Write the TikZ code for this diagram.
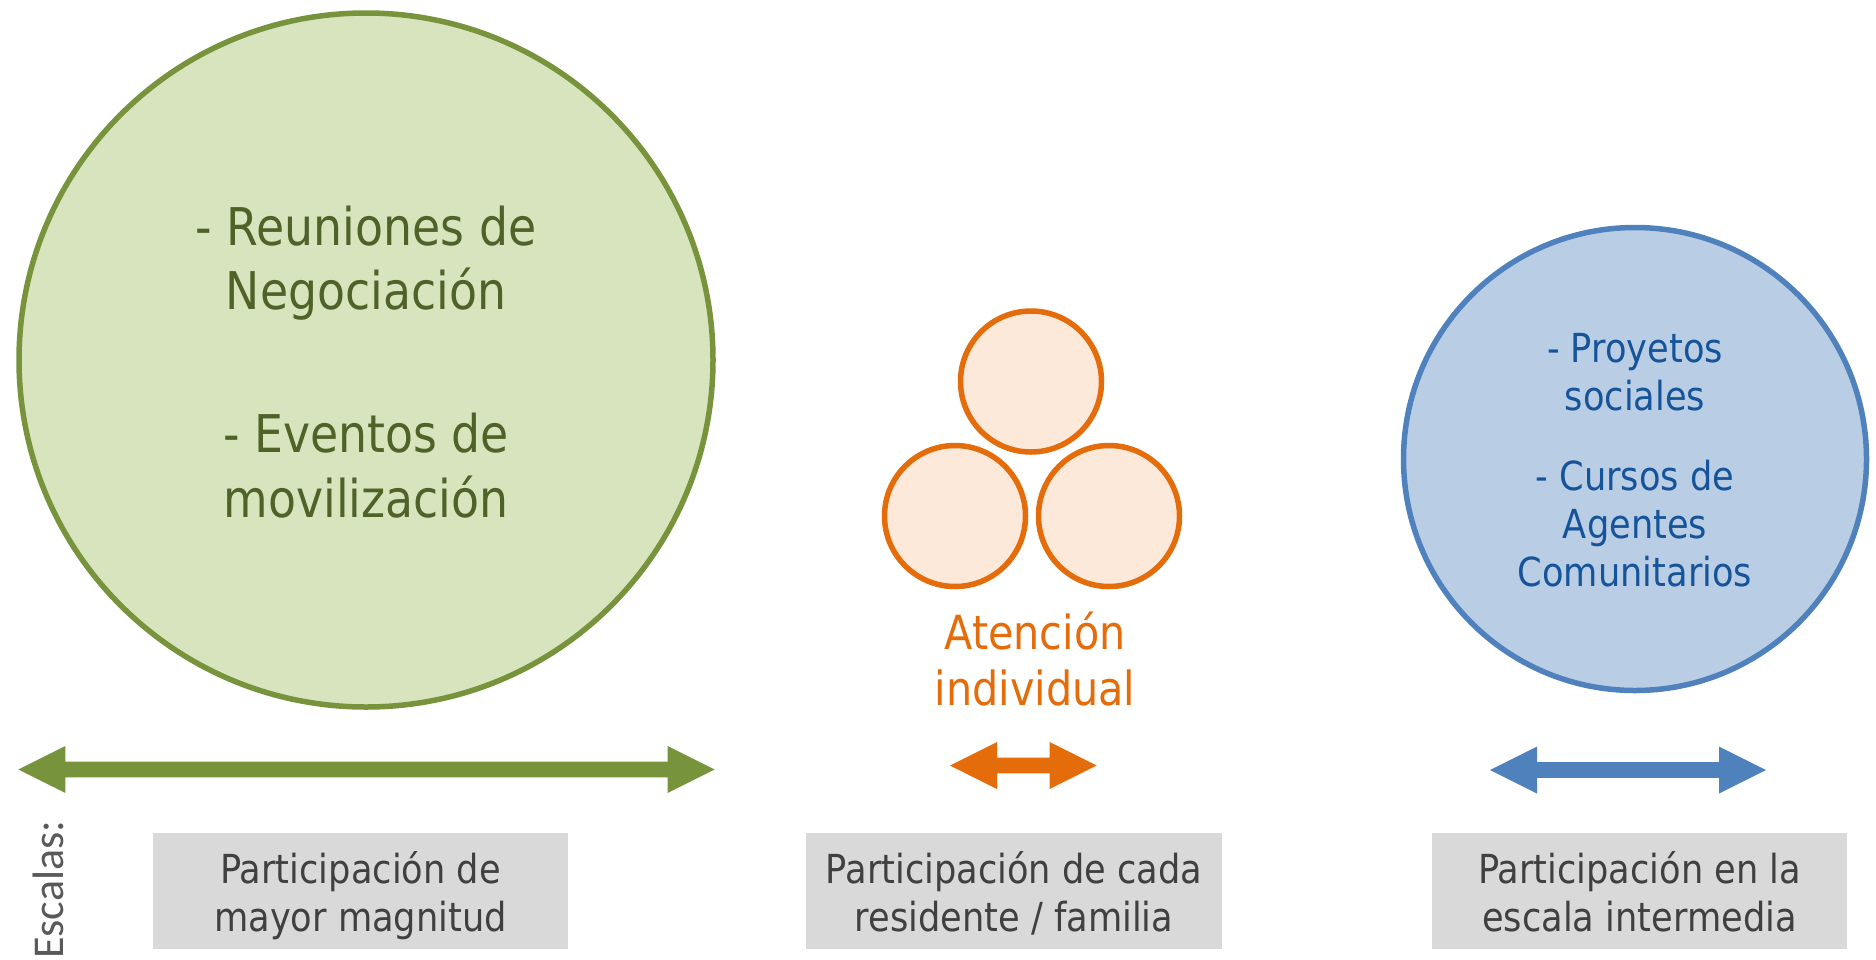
\documentclass[tikz,border=0pt]{standalone}
\usepackage{fontspec}
\setmainfont{DejaVu Sans}[FakeStretch=0.88]
\newfontfamily\escfont{Carlito}
\definecolor{gfill}{HTML}{D7E4BD}
\definecolor{gline}{HTML}{77933C}
\definecolor{gtext}{HTML}{4F6228}
\definecolor{ofill}{HTML}{FDE9D9}
\definecolor{oline}{HTML}{E46C0A}
\definecolor{bfill}{HTML}{B9CDE5}
\definecolor{bline}{HTML}{4F81BD}
\definecolor{btext}{HTML}{16549A}
\definecolor{boxfill}{HTML}{D9D9D9}
\definecolor{boxtext}{HTML}{404040}
\definecolor{esctext}{HTML}{595959}
\newcommand{\dblarrowshape}[4]{%
  \fill[#1] (#2,#4) -- (#2+47,#4-23.5) -- (#2+47,#4-7.8) -- (#3-47,#4-7.8) -- (#3-47,#4-23.5) -- (#3,#4)
    -- (#3-47,#4+23.5) -- (#3-47,#4+7.8) -- (#2+47,#4+7.8) -- (#2+47,#4+23.5) -- cycle;}
\begin{document}
\begin{tikzpicture}[x=1pt,y=-1pt,
  bubble/.style={circle,inner sep=0pt,line width=5.5pt},
  gline1/.style={anchor=base,inner sep=0pt,text=gtext,font=\fontsize{52}{63}\selectfont},
  bline1/.style={anchor=base,inner sep=0pt,text=btext,font=\fontsize{40}{48}\selectfont},
  oline1/.style={anchor=base,inner sep=0pt,text=oline,font=\fontsize{47}{56}\selectfont},
  scalebox/.style={fill=boxfill,draw=none,inner sep=0pt,anchor=north west},
  boxline/.style={anchor=base,inner sep=0pt,text=boxtext,font=\fontsize{40}{48}\selectfont}]
\useasboundingbox (0,0) rectangle (1876,959);
% circles
\node[bubble,draw=gline,fill=gfill,minimum size=694pt] (big) at (366,360) {};
\node[bubble,draw=oline,fill=ofill,minimum size=141pt] (otop) at (1031,381.5) {};
\node[bubble,draw=oline,fill=ofill,minimum size=141pt] (oleft) at (955,516) {};
\node[bubble,draw=oline,fill=ofill,minimum size=141pt] (oright) at (1109,516) {};
\node[bubble,draw=bline,fill=bfill,minimum size=463pt] (blue) at (1635,459) {};
% green text
\node[gline1] (g1) at (366,245.5) {- Reuniones de};
\node[gline1] (g2) at (366,309) {Negociación};
\node[gline1] (g3) at (366,452.7) {- Eventos de};
\node[gline1] (g4) at (366,517) {movilización};
% blue text
\node[bline1] (b1) at (1635,362.3) {- Proyetos};
\node[bline1] (b2) at (1635,410) {sociales};
\node[bline1] (b3) at (1635,490.6) {- Cursos de};
\node[bline1] (b4) at (1635,538.3) {Agentes};
\node[bline1] (b5) at (1635,586) {Comunitarios};
% orange text
\node[oline1] (o1) at (1035,649) {Atención};
\node[oline1] (o2) at (1035,705.7) {individual};
% arrows
\dblarrowshape{gline}{18.3}{714.7}{769.5}
\dblarrowshape{oline}{950}{1096.7}{765.5}
\dblarrowshape{bline}{1490}{1766}{770}
% boxes
\node[scalebox,minimum width=415pt,minimum height=116.5pt] (box1) at (153,832.5) {};
\node[scalebox,minimum width=416pt,minimum height=116.5pt] (box2) at (806,832.5) {};
\node[scalebox,minimum width=415pt,minimum height=116.5pt] (box3) at (1432,832.5) {};
\node[boxline] (t1a) at (360.5,883.3) {Participación de};
\node[boxline] (t1b) at (360.5,931.7) {mayor magnitud};
\node[boxline] (t2a) at (1014,883.3) {Participación de cada};
\node[boxline] (t2b) at (1014,931.7) {residente / familia};
\node[boxline] (t3a) at (1639.5,883.3) {Participación en la};
\node[boxline] (t3b) at (1639.5,931.7) {escala intermedia};
% Escalas
\node[rotate=90,anchor=base west,inner sep=0pt,text=esctext,font=\escfont\fontsize{44}{52}\selectfont] (esc) at (63,959) {Escalas:};
\end{tikzpicture}
\end{document}
